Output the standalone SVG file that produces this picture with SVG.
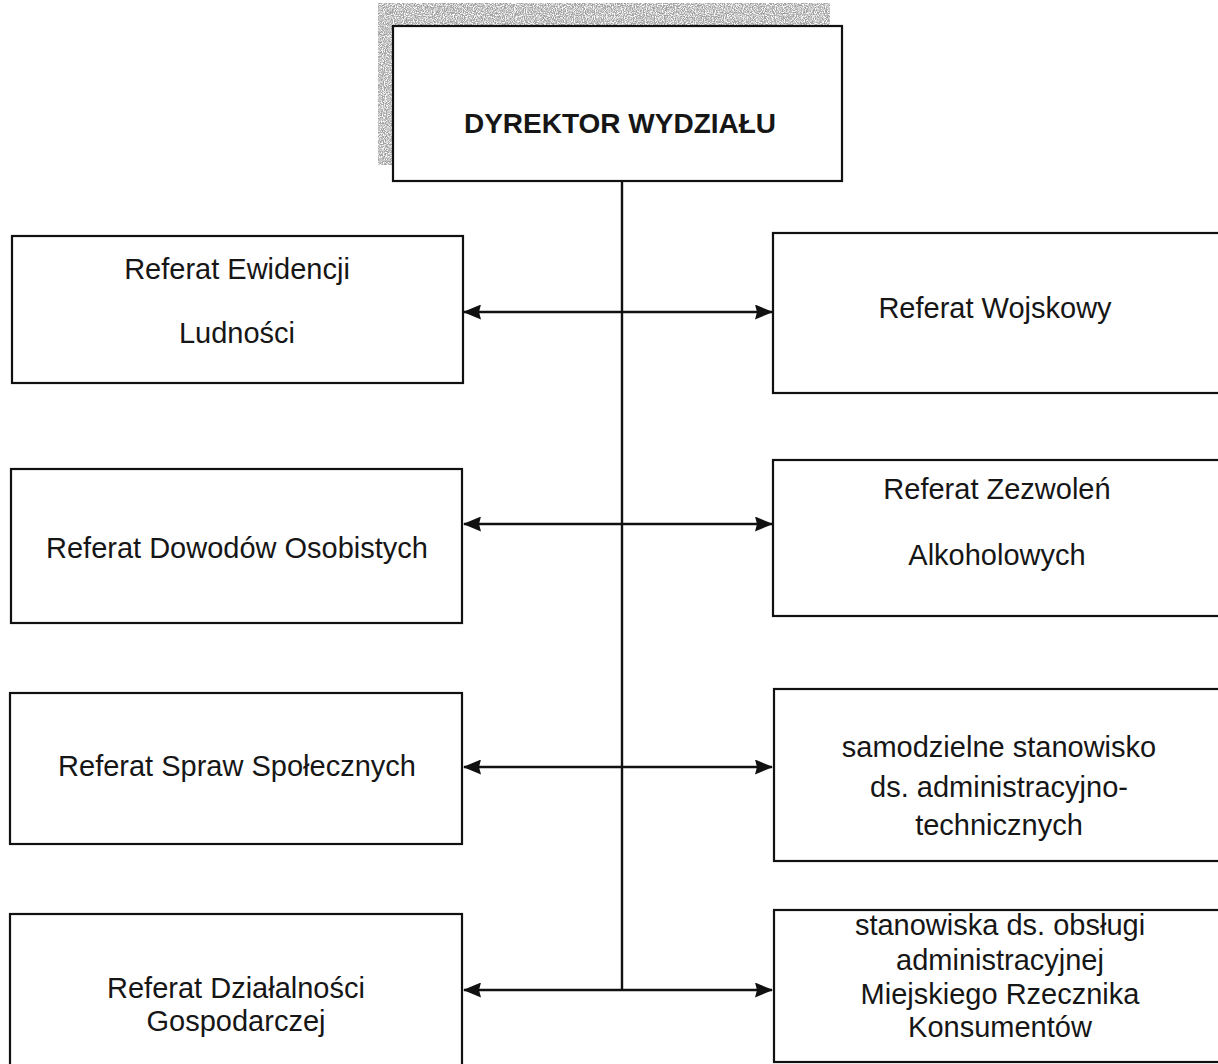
<svg xmlns="http://www.w3.org/2000/svg" width="1218" height="1064" viewBox="0 0 1218 1064">
  <style>
    .box { fill: #ffffff; stroke: #111111; stroke-width: 2.2; }
    .lbl { font-family: "Liberation Sans", Arial, sans-serif; font-size: 29px; fill: #161616; text-anchor: middle; }
    .head { font-family: "Liberation Sans", Arial, sans-serif; font-size: 28px; font-weight: bold; fill: #161616; text-anchor: middle; }
    .wire { fill: none; stroke: #111111; stroke-width: 2.4; }
  </style>
  <defs>
    <marker id="tip" viewBox="0 0 18 15" refX="17" refY="7.5" markerWidth="18" markerHeight="15" markerUnits="userSpaceOnUse" orient="auto-start-reverse">
      <path d="M0,0 L18,7.5 L0,15 L2,7.5 Z" fill="#111111"/>
    </marker>
    <filter id="grain" x="0" y="0" width="1" height="1">
      <feTurbulence type="fractalNoise" baseFrequency="0.9" numOctaves="2" seed="4" result="n"/>
      <feColorMatrix in="n" type="matrix" values="0 0 0 0 0.35  0 0 0 0 0.35  0 0 0 0 0.35  0 0 0 -3 2.1" result="g"/>
      <feComposite in="g" in2="SourceGraphic" operator="in"/>
    </filter>
  </defs>

  <!-- speckled shadow behind the head box -->
  <g id="shadow" filter="url(#grain)">
    <rect x="378" y="3" width="452" height="22" fill="#000"/>
    <rect x="378" y="3" width="15" height="162" fill="#000"/>
  </g>

  <!-- connectors -->
  <g id="connectors">
    <line class="wire" x1="622" y1="181" x2="622" y2="990"/>
    <line class="wire" x1="464" y1="312" x2="772" y2="312" marker-start="url(#tip)" marker-end="url(#tip)"/>
    <line class="wire" x1="464" y1="524" x2="772" y2="524" marker-start="url(#tip)" marker-end="url(#tip)"/>
    <line class="wire" x1="464" y1="767" x2="772" y2="767" marker-start="url(#tip)" marker-end="url(#tip)"/>
    <line class="wire" x1="464" y1="990" x2="772" y2="990" marker-start="url(#tip)" marker-end="url(#tip)"/>
  </g>

  <g id="dyrektor">
    <rect class="box" x="393" y="26" width="449" height="155"/>
    <text class="head" x="620" y="133">DYREKTOR WYDZIAŁU</text>
  </g>

  <g id="ewidencja">
    <rect class="box" x="12" y="236" width="451" height="147"/>
    <text class="lbl" x="237" y="279">Referat Ewidencji</text>
    <text class="lbl" x="237" y="343">Ludności</text>
  </g>

  <g id="dowody">
    <rect class="box" x="11" y="469" width="451" height="154"/>
    <text class="lbl" x="237" y="558">Referat Dowodów Osobistych</text>
  </g>

  <g id="sprawy-spoleczne">
    <rect class="box" x="10" y="693" width="452" height="151"/>
    <text class="lbl" x="237" y="776">Referat Spraw Społecznych</text>
  </g>

  <g id="dzialalnosc">
    <rect class="box" x="10" y="914" width="452" height="160"/>
    <text class="lbl" x="236" y="998">Referat Działalności</text>
    <text class="lbl" x="236" y="1031">Gospodarczej</text>
  </g>

  <g id="wojskowy">
    <rect class="box" x="773" y="233" width="460" height="160"/>
    <text class="lbl" x="995" y="318">Referat Wojskowy</text>
  </g>

  <g id="zezwolenia">
    <rect class="box" x="773" y="460" width="460" height="156"/>
    <text class="lbl" x="997" y="499">Referat Zezwoleń</text>
    <text class="lbl" x="997" y="565">Alkoholowych</text>
  </g>

  <g id="stanowisko-at">
    <rect class="box" x="774" y="689" width="460" height="172"/>
    <text class="lbl" x="999" y="757">samodzielne stanowisko</text>
    <text class="lbl" x="999" y="797">ds. administracyjno-</text>
    <text class="lbl" x="999" y="835">technicznych</text>
  </g>

  <g id="rzecznik">
    <rect class="box" x="774" y="910" width="460" height="152"/>
    <text class="lbl" x="1000" y="935">stanowiska ds. obsługi</text>
    <text class="lbl" x="1000" y="970">administracyjnej</text>
    <text class="lbl" x="1000" y="1004">Miejskiego Rzecznika</text>
    <text class="lbl" x="1000" y="1037">Konsumentów</text>
  </g>
</svg>
